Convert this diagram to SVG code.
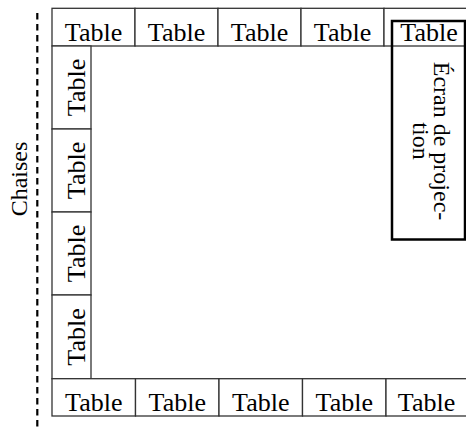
<svg xmlns="http://www.w3.org/2000/svg" width="466" height="427" viewBox="0 0 466 427">
<style>
.cell{fill:#fff;stroke:#333;stroke-width:1.3}
.t{font-family:"Liberation Serif","Times New Roman",serif;font-size:26px;fill:#000;text-anchor:middle}
.s{font-family:"Liberation Serif","Times New Roman",serif;font-size:24px;fill:#000;text-anchor:middle}
</style>
<rect width="466" height="427" fill="#fff"/>
<g id="connectors">
<line x1="37.3" y1="13" x2="37.3" y2="427" stroke="#000" stroke-width="2.2" stroke-dasharray="6.5,4.5"/>
</g>
<g id="chaises"><text class="s" transform="translate(26.5,179) rotate(-90)" x="0" y="0">Chaises</text></g>
<g id="top1"><rect class="cell" x="52" y="8.3" width="83" height="37.7"/><text class="t" x="93.5" y="41">Table</text></g>
<g id="top2"><rect class="cell" x="135" y="8.3" width="83" height="37.7"/><text class="t" x="176.5" y="41">Table</text></g>
<g id="top3"><rect class="cell" x="218" y="8.3" width="83" height="37.7"/><text class="t" x="259.5" y="41">Table</text></g>
<g id="top4"><rect class="cell" x="301" y="8.3" width="83" height="37.7"/><text class="t" x="342.5" y="41">Table</text></g>
<g id="top5"><rect class="cell" x="384" y="8.3" width="90" height="37.7"/><text class="t" x="429" y="41">Table</text></g>
<g id="left1"><rect class="cell" x="52" y="46" width="39" height="83"/><text class="t" transform="translate(85,87.5) rotate(-90)">Table</text></g>
<g id="left2"><rect class="cell" x="52" y="129" width="39" height="83"/><text class="t" transform="translate(85,170.5) rotate(-90)">Table</text></g>
<g id="left3"><rect class="cell" x="52" y="212" width="39" height="83"/><text class="t" transform="translate(85,253.5) rotate(-90)">Table</text></g>
<g id="left4"><rect class="cell" x="52" y="295" width="39" height="83.7"/><text class="t" transform="translate(85,337) rotate(-90)">Table</text></g>
<g id="bot1"><rect class="cell" x="52" y="378.7" width="83.5" height="37.3"/><text class="t" x="93.8" y="411">Table</text></g>
<g id="bot2"><rect class="cell" x="135.5" y="378.7" width="83.5" height="37.3"/><text class="t" x="177.3" y="411">Table</text></g>
<g id="bot3"><rect class="cell" x="219" y="378.7" width="83.5" height="37.3"/><text class="t" x="260.8" y="411">Table</text></g>
<g id="bot4"><rect class="cell" x="302.5" y="378.7" width="83.5" height="37.3"/><text class="t" x="344.3" y="411">Table</text></g>
<g id="bot5"><rect class="cell" x="386" y="378.7" width="90" height="37.3"/><text class="t" x="426.5" y="411">Table</text></g>
<g id="ecran">
<rect x="392" y="21" width="73" height="218.5" fill="none" stroke="#000" stroke-width="2.5"/>
<text class="s" transform="translate(434,141) rotate(90)"><tspan x="0" y="0">Écran de projec-</tspan><tspan x="0" y="21.5">tion</tspan></text>
</g>
</svg>
